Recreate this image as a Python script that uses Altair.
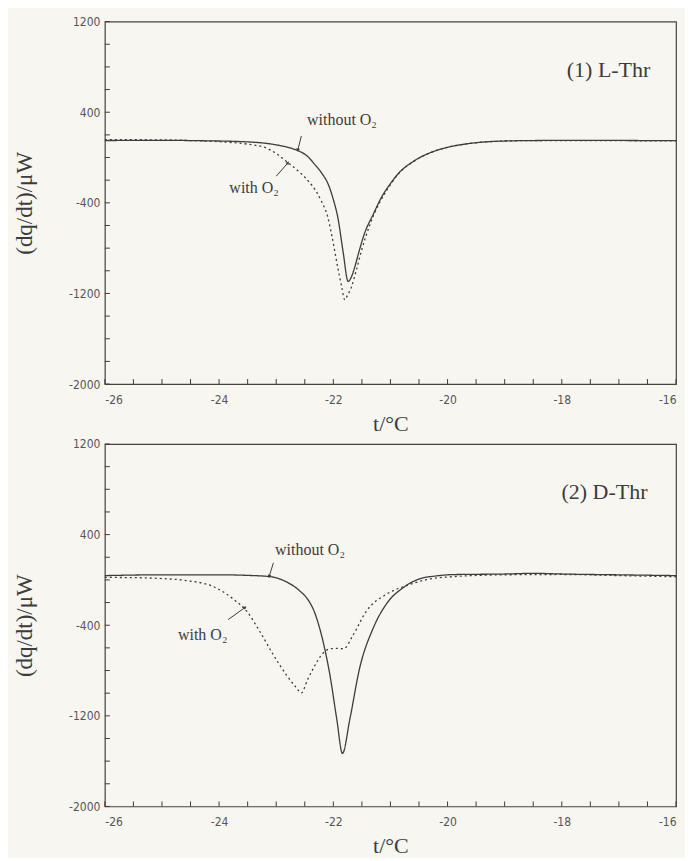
import math
import altair as alt
import pandas as pd

# ---------------- data ----------------
# Panel (1) L-Thr
l_without_t = [-26.0, -25.0, -24.4, -23.5, -23.0, -22.8, -22.62, -22.45, -22.33, -22.2, -22.09, -22.0,
               -21.92, -21.83, -21.74, -21.68, -21.63, -21.55, -21.46, -21.3, -21.16, -21.0, -20.87,
               -20.58, -20.29, -20.0, -19.6, -19.2, -18.5, -17.5, -16.5, -16.0]
l_without_v = [150, 152, 149, 138, 112, 90, 61, 10, -58, -140, -235, -370,
               -532, -828, -1094, -1050, -976, -830, -679, -500, -354, -230, -146,
               -28, 45, 90, 125, 142, 150, 152, 150, 150]
l_with_t = [-26.0, -25.0, -24.5, -24.0, -23.5, -23.2, -23.0, -22.8, -22.6, -22.44, -22.3, -22.21,
            -22.1, -22.03, -21.92, -21.85, -21.8, -21.75, -21.69, -21.6, -21.51, -21.35, -21.16,
            -21.0, -20.87, -20.58, -20.29, -20.0, -19.6, -19.2, -18.5, -17.5, -16.5, -16.0]
l_with_v = [158, 156, 150, 140, 118, 90, 35, -43, -125, -206, -300, -384,
            -520, -679, -976, -1150, -1256, -1215, -1153, -1000, -828, -580, -370,
            -240, -150, -30, 45, 90, 125, 142, 150, 150, 148, 148]

# Panel (2) D-Thr
d_without_t = [-26.0, -25.0, -24.0, -23.5, -23.11, -22.85, -22.59, -22.45, -22.35, -22.18, -22.06,
               -21.94, -21.84, -21.71, -21.54, -21.3, -21.07, -20.77, -20.48, -20.2, -19.9, -19.0,
               -18.5, -18.0, -17.0, -16.0]
d_without_v = [38, 45, 45, 40, 29, -10, -96, -170, -260, -543, -838,
               -1228, -1532, -1228, -781, -424, -212, -66, 11, 35, 47, 52,
               58, 52, 45, 38]
d_with_t = [-26.0, -25.5, -25.0, -24.57, -24.1, -23.75, -23.52, -23.29, -23.05, -22.82, -22.65,
            -22.56, -22.45, -22.35, -22.18, -22.06, -21.94, -21.82, -21.65, -21.42, -21.07, -20.72,
            -20.37, -19.9, -19.0, -18.0, -17.0, -16.0]
d_with_v = [22, 20, 12, -6, -59, -170, -274, -453, -662, -840, -950,
            -998, -880, -781, -647, -608, -605, -608, -483, -275, -126, -51,
            2, 29, 45, 48, 38, 28]

series_names = ["without O2", "with O2"]

# axis ticks / labels
x_label_values = [-26, -24, -22, -20, -18, -16]
y_label_values = [1200, 400, -400, -1200, -2000]
x_minor_ticks = [-26, -25.5, -25, -24.5, -24, -23.5, -23, -22.5, -22, -21.5, -21, -20.5,
                 -20, -19.5, -19, -18.5, -18, -17.5, -17, -16.5, -16]
y_minor_ticks = [-2000, -1800, -1600, -1400, -1200, -1000, -800, -600, -400, -200, 0,
                 200, 400, 600, 800, 1000, 1200]

# annotations: text anchor (t, v), arrow from (t1, v1) to (t2, v2)
l_texts = ["without O₂", "with O₂"]
l_text_t = [-22.46, -23.82]
l_text_v = [330, -265]
l_arrow_t1 = [-22.56, -23.0]
l_arrow_v1 = [190, -165]
l_arrow_t2 = [-22.62, -22.8]
l_arrow_v2 = [70, -50]

d_texts = ["without O₂", "with O₂"]
d_text_t = [-23.02, -24.72]
d_text_v = [262, -483]
d_arrow_t1 = [-23.05, -23.84]
d_arrow_v1 = [150, -350]
d_arrow_t2 = [-23.12, -23.55]
d_arrow_v2 = [35, -245]

panel_labels = ["(1)  L-Thr", "(2)  D-Thr"]
panel_label_t = [-16.45, -16.5]
panel_label_v = [775, 780]

# ---------------- chart ----------------
W, H = 572, 363
X_DOMAIN = [-26, -16]
Y_DOMAIN = [-2000, 1200]
INK = "#3c3c3c"
SERIF = "Liberation Serif"
TICKFONT = "Liberation Sans Narrow, DejaVu Sans Condensed, Liberation Sans"


def panel(tw, vw, tv, vv, texts, text_t, text_v, at1, av1, at2, av2, label, label_t, label_v):
    rows = []
    for t, v in zip(tw, vw):
        rows.append({"t": t, "v": v, "series": series_names[0]})
    for t, v in zip(tv, vv):
        rows.append({"t": t, "v": v, "series": series_names[1]})
    df = pd.DataFrame(rows)

    xs = alt.Scale(domain=X_DOMAIN, nice=False, zero=False)
    ys = alt.Scale(domain=Y_DOMAIN, nice=False, zero=False)

    x_enc = alt.X(
        "t:Q", scale=xs,
        axis=alt.Axis(values=x_label_values, ticks=False, domain=False, grid=False,
                      labelFont=TICKFONT, labelFontSize=12, labelColor="#555",
                      labelPadding=10,
                      labelExpr="datum.value < 0 ? '-' + abs(datum.value) : '' + datum.value",
                      title="t/°C", titleFont=SERIF, titleFontSize=22, titleFontWeight="normal",
                      titleColor=INK, titlePadding=8),
    )
    y_enc = alt.Y(
        "v:Q", scale=ys,
        axis=alt.Axis(values=y_label_values, ticks=False, domain=False, grid=False,
                      labelFont=TICKFONT, labelFontSize=12, labelColor="#555",
                      labelPadding=5,
                      labelExpr="datum.value < 0 ? '-' + abs(datum.value) : '' + datum.value",
                      title="(dq/dt)/μW", titleFont=SERIF, titleFontSize=23,
                      titleFontWeight="normal", titleColor=INK, titlePadding=32),
    )

    lines = alt.Chart(df).mark_line(interpolate="monotone", color=INK, strokeWidth=1.3).encode(
        x=x_enc, y=y_enc,
        strokeDash=alt.StrokeDash(
            "series:N",
            scale=alt.Scale(domain=series_names, range=[[1, 0], [2, 3]]),
            legend=None),
        detail="series:N",
    )

    xt = alt.Chart(pd.DataFrame({"t": x_minor_ticks})).mark_rule(color=INK, strokeWidth=1).encode(
        x=alt.X("t:Q", scale=xs), y=alt.value(H), y2=alt.value(H - 5))
    yt = alt.Chart(pd.DataFrame({"v": y_minor_ticks})).mark_rule(color=INK, strokeWidth=1).encode(
        y=alt.Y("v:Q", scale=ys), x=alt.value(0), x2=alt.value(5))

    ann = pd.DataFrame({"t": text_t, "v": text_v, "text": texts})
    ann_text = alt.Chart(ann).mark_text(align="left", baseline="middle", font=SERIF,
                                        fontSize=16, color=INK).encode(
        x=alt.X("t:Q", scale=xs), y=alt.Y("v:Q", scale=ys), text="text:N")

    arr = pd.DataFrame({"t1": at1, "v1": av1, "t2": at2, "v2": av2})
    px_t = W / (X_DOMAIN[1] - X_DOMAIN[0])
    px_v = H / (Y_DOMAIN[1] - Y_DOMAIN[0])
    arr["angle"] = [
        (math.degrees(math.atan2((b - a) * px_t, (d - c) * px_v)) + 360) % 360
        for a, b, c, d in zip(arr.t1, arr.t2, arr.v1, arr.v2)
    ]
    shafts = alt.Chart(arr).mark_rule(color=INK, strokeWidth=1).encode(
        x=alt.X("t1:Q", scale=xs), y=alt.Y("v1:Q", scale=ys), x2="t2:Q", y2="v2:Q")
    heads = alt.Chart(arr).mark_point(shape="triangle", filled=True, color=INK, size=14,
                                      opacity=1).encode(
        x=alt.X("t2:Q", scale=xs), y=alt.Y("v2:Q", scale=ys),
        angle=alt.Angle("angle:Q", scale=None))

    lab = alt.Chart(pd.DataFrame({"t": [label_t], "v": [label_v], "text": [label]})).mark_text(
        align="right", baseline="middle", font=SERIF, fontSize=22, color=INK).encode(
        x=alt.X("t:Q", scale=xs), y=alt.Y("v:Q", scale=ys), text="text:N")

    return alt.layer(lines, xt, yt, shafts, heads, ann_text, lab).properties(width=W, height=H)


top = panel(l_without_t, l_without_v, l_with_t, l_with_v,
            l_texts, l_text_t, l_text_v, l_arrow_t1, l_arrow_v1, l_arrow_t2, l_arrow_v2,
            panel_labels[0], panel_label_t[0], panel_label_v[0])
bottom = panel(d_without_t, d_without_v, d_with_t, d_with_v,
               d_texts, d_text_t, d_text_v, d_arrow_t1, d_arrow_v1, d_arrow_t2, d_arrow_v2,
               panel_labels[1], panel_label_t[1], panel_label_v[1])

chart = alt.vconcat(top, bottom, spacing=2).properties(
    padding={"left": 5, "top": 6, "right": 5, "bottom": 0},
    background="#f7f6f1",
).configure_view(stroke="#444", strokeWidth=1.2)

chart.save("out.html", embed_options={"renderer": "svg", "actions": False})
